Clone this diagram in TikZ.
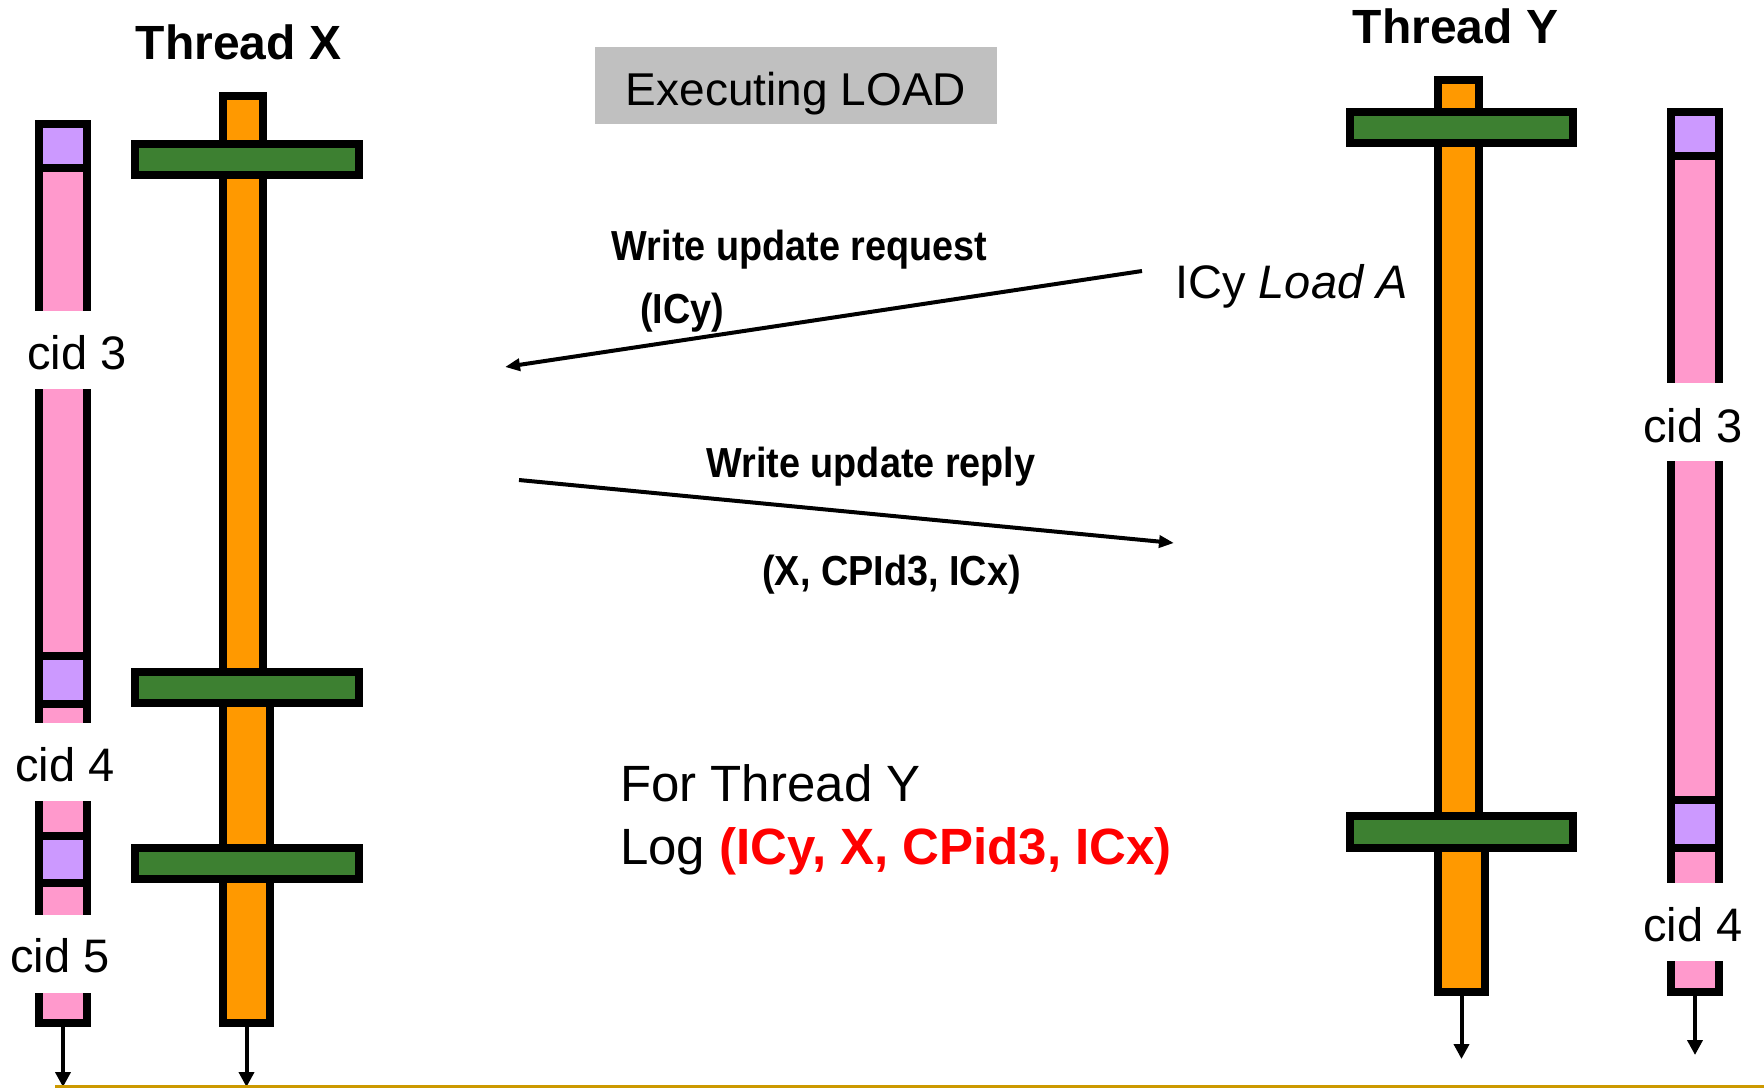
\documentclass[tikz,border=0pt]{standalone}
\usepackage{fontspec}
\setmainfont{Liberation Sans}
\newfontfamily\narrowbold[FakeStretch=0.9]{Liberation Sans Bold}
\usetikzlibrary{arrows.meta}

\definecolor{barorange}{RGB}{255,153,0}
\definecolor{bargreen}{RGB}{61,128,49}
\definecolor{cidpink}{RGB}{255,153,204}
\definecolor{cidpurple}{RGB}{204,153,255}
\definecolor{labelgray}{RGB}{192,192,192}
\definecolor{rulegold}{RGB}{204,153,0}

% box node given by the outer edge of its 8pt border: name, style, x1, y1, x2, y2
\newcommand\edgebox[6]{%
  \node[#2, anchor=north west, inner sep=0pt,
        minimum width={#5-#3-8}, minimum height={#6-#4-8}]
        (#1) at (#3,#4) {};}

\tikzset{
  outlined/.style={draw=black, line width=8pt},
  threadbar/.style={outlined, fill=barorange},
  syncbar/.style={outlined, fill=bargreen},
  cidcol/.style={outlined, fill=cidpink},
  cidcell/.style={outlined, fill=cidpurple},
  flow/.style={line width=4pt, -{Triangle[length=15pt, width=15pt]}},
  msg/.style={line width=4pt, -{Triangle[length=15pt, width=12pt]}},
  title/.style={inner sep=0pt, anchor=base, font=\fontsize{48}{58}\selectfont\bfseries},
  cidlabel/.style={inner sep=0pt, anchor=base, font=\fontsize{47}{56}\selectfont},
  msglabel/.style={inner sep=0pt, anchor=base, font=\fontsize{42}{50}\selectfont\narrowbold},
}

\begin{document}
\begin{tikzpicture}[x=1pt, y=-1pt]
  \useasboundingbox (0,0) rectangle (1764,1088);

  % ---- cid columns, pink with purple cells ----
  \edgebox{colL}{cidcol}{35}{120}{91}{1027}
  \edgebox{cellLa}{cidcell}{35}{120}{91}{172}
  \edgebox{cellLb}{cidcell}{35}{652}{91}{708}
  \edgebox{cellLc}{cidcell}{35}{832}{91}{887}
  \edgebox{colR}{cidcol}{1667}{108}{1723}{996}
  \edgebox{cellRa}{cidcell}{1667}{108}{1723}{160}
  \edgebox{cellRb}{cidcell}{1667}{796}{1723}{852}

  % gaps in the columns where the cid labels sit
  \fill[white] (28,311) rectangle (98,389);
  \fill[white] (28,723) rectangle (98,801);
  \fill[white] (28,915) rectangle (98,993);
  \fill[white] (1660,383) rectangle (1730,461);
  \fill[white] (1660,883) rectangle (1730,961);

  \node[cidlabel] (cidL3) at (77,369) {cid 3};
  \node[cidlabel] (cidL4) at (65,781) {cid 4};
  \node[cidlabel] (cidL5) at (60,972) {cid 5};
  \node[cidlabel] (cidR3) at (1693,442) {cid 3};
  \node[cidlabel] (cidR4) at (1693,941) {cid 4};

  % ---- thread X ----
  \edgebox{barXa}{threadbar}{219}{92}{267}{700}
  \edgebox{barXb}{threadbar}{219}{685}{274}{1027}
  \edgebox{syncXa}{syncbar}{131}{140}{363}{179}
  \edgebox{syncXb}{syncbar}{131}{668}{363}{707}
  \edgebox{syncXc}{syncbar}{131}{844}{363}{883}
  \node[title] (threadX) at (238.5,59) {Thread X};

  % ---- thread Y ----
  \edgebox{barYa}{threadbar}{1434}{76}{1483}{830}
  \edgebox{barYb}{threadbar}{1434}{822}{1489}{996}
  \edgebox{syncYa}{syncbar}{1346}{108}{1577}{147}
  \edgebox{syncYb}{syncbar}{1346}{812}{1577}{852}
  \node[title] (threadY) at (1455.5,43) {Thread Y};

  % ---- time arrows ----
  \coordinate (endL) at (63,1087);
  \coordinate (endX) at (246.5,1087);
  \coordinate (endY) at (1461.5,1059);
  \coordinate (endR) at (1695,1055);
  \draw[flow] (colL.south) -- (endL);
  \draw[flow] (barXb.south) -- (endX);
  \draw[flow] (barYb.south) -- (endY);
  \draw[flow] (colR.south) -- (endR);

  % ---- heading box ----
  \node[fill=labelgray, inner sep=0pt, minimum width=402, minimum height=77,
        text height=39pt, text depth=0pt, font=\fontsize{46}{55}\selectfont]
        (exec) at (796,85.5) {Executing LOAD};

  % ---- messages ----
  \node[inner sep=0pt, anchor=base west, font=\fontsize{47}{56}\selectfont]
        (loadA) at (1175,298) {ICy \textit{Load A}};
  \coordinate (reqFrom) at (1142,271);
  \coordinate (reqTo) at (505,367);
  \draw[msg] (reqFrom) -- (reqTo);
  \node[msglabel] (reqLabel) at (799.5,260) {Write update request};
  \node[msglabel] (reqArgs) at (682,323) {(ICy)};

  \coordinate (repFrom) at (519,480);
  \coordinate (repTo) at (1174,543);
  \draw[msg] (repFrom) -- (repTo);
  \node[msglabel] (repLabel) at (871,477) {Write update reply};
  \node[msglabel] (repArgs) at (891.5,585) {(X, CPId3, ICx)};

  % ---- log entry ----
  \node[inner sep=0pt, anchor=base west, font=\fontsize{51}{63}\selectfont]
        (forY) at (620,801) {For Thread Y};
  \node[inner sep=0pt, anchor=base west, font=\fontsize{51}{63}\selectfont]
        (logY) at (620,864) {Log {\bfseries\color{red}(ICy, X, CPid3, ICx)}};

  % ---- bottom rule ----
  \coordinate (ruleL) at (55,1086.5);
  \coordinate (ruleR) at (1764,1086.5);
  \draw[rulegold, line width=3pt] (ruleL) -- (ruleR);
\end{tikzpicture}
\end{document}
